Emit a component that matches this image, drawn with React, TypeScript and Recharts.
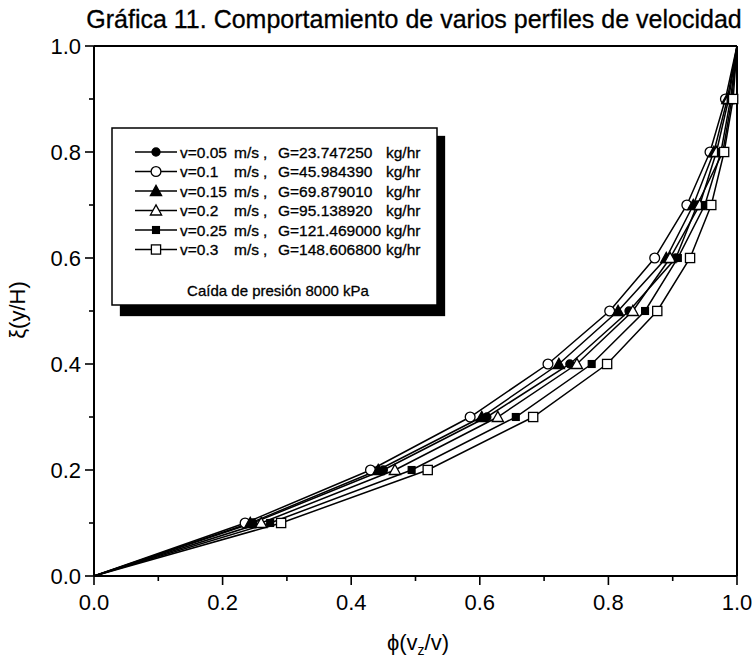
import { LineChart, Line, XAxis, YAxis, ReferenceLine } from "recharts";

// dimensionless height ξ = y/H at which each profile was sampled
const xiLevels = [0, 0.1, 0.2, 0.3, 0.4, 0.5, 0.6, 0.7, 0.8, 0.9, 1.0];

// dimensionless velocity φ = vz/v for each inlet velocity
const phiV005 = [0, 0.247, 0.45, 0.611, 0.74, 0.832, 0.905, 0.938, 0.978, 0.992, 1];
const phiV010 = [0, 0.235, 0.43, 0.585, 0.706, 0.802, 0.872, 0.922, 0.958, 0.982, 1];
const phiV015 = [0, 0.243, 0.442, 0.603, 0.723, 0.815, 0.89, 0.932, 0.964, 0.985, 1];
const phiV020 = [0, 0.26, 0.468, 0.628, 0.751, 0.838, 0.896, 0.942, 0.968, 0.987, 1];
const phiV025 = [0, 0.274, 0.494, 0.656, 0.774, 0.857, 0.908, 0.95, 0.975, 0.99, 1];
const phiV030 = [0, 0.291, 0.519, 0.683, 0.798, 0.876, 0.927, 0.96, 0.98, 0.994, 1];

const velocityLabels = ["v=0.05", "v=0.1", "v=0.15", "v=0.2", "v=0.25", "v=0.3"];
const flowLabels = ["G=23.747250", "G=45.984390", "G=69.879010", "G=95.138920", "G=121.469000", "G=148.606800"];

const axisTicks = [0, 0.1, 0.2, 0.3, 0.4, 0.5, 0.6, 0.7, 0.8, 0.9, 1.0];

type Shape = "circle" | "triangle" | "square";
interface MarkerKind {
  shape: Shape;
  filled: boolean;
}

const markerKinds: MarkerKind[] = [
  { shape: "circle", filled: true },
  { shape: "circle", filled: false },
  { shape: "triangle", filled: true },
  { shape: "triangle", filled: false },
  { shape: "square", filled: true },
  { shape: "square", filled: false },
];

const toPoints = (phi: number[]) => phi.map((p, i) => ({ x: p, y: xiLevels[i] }));

const series = [phiV005, phiV010, phiV015, phiV020, phiV025, phiV030].map((phi, i) => ({
  name: velocityLabels[i],
  data: toPoints(phi),
  kind: markerKinds[i],
}));

const FONT = "'Liberation Sans', Arial, Helvetica, sans-serif";

const Marker = ({ kind, cx, cy }: { kind: MarkerKind; cx: number; cy: number }) => {
  const fill = kind.filled ? "#000" : "#fff";
  if (kind.shape === "circle") {
    return <circle cx={cx} cy={cy} r={kind.filled ? 4 : 4.9} fill={fill} stroke="#000" strokeWidth={1.3} />;
  }
  if (kind.shape === "triangle") {
    const s = 5.6;
    return (
      <polygon
        points={`${cx},${cy - s} ${cx + s},${cy + s * 0.8} ${cx - s},${cy + s * 0.8}`}
        fill={fill}
        stroke="#000"
        strokeWidth={1.3}
      />
    );
  }
  const h = kind.filled ? 3.4 : 4.6;
  return <rect x={cx - h} y={cy - h} width={h * 2} height={h * 2} fill={fill} stroke="#000" strokeWidth={1.3} />;
};

const isMajor = (v: number) => Math.round(v * 10) % 2 === 0;

const XTick = (props: any) => {
  const { x, y, payload } = props;
  const v = payload.value as number;
  const major = isMajor(v);
  return (
    <g>
      <line x1={x} x2={x} y1={y} y2={y + (major ? 9 : 5)} stroke="#000" strokeWidth={1.6} />
      {major && (
        <text x={x} y={y + 34} textAnchor="middle" fontSize={22} fontFamily={FONT} fill="#000">
          {v.toFixed(1)}
        </text>
      )}
    </g>
  );
};

const YTick = (props: any) => {
  const { x, y, payload } = props;
  const v = payload.value as number;
  const major = isMajor(v);
  return (
    <g>
      <line x1={x} x2={x - (major ? 9 : 5)} y1={y} y2={y} stroke="#000" strokeWidth={1.6} />
      {major && (
        <text x={x - 13} y={y + 8} textAnchor="end" fontSize={22} fontFamily={FONT} fill="#000">
          {v.toFixed(1)}
        </text>
      )}
    </g>
  );
};

const Legend = () => {
  const rowY = (i: number) => 152 + i * 19.5;
  return (
    <g fontFamily={FONT} fontSize={15.5} fill="#000" stroke="#000" strokeWidth={0.3}>
      <rect x={120} y={136} width={325} height={180} fill="#000" />
      <rect x={112} y={128} width={325} height={177} fill="#fff" stroke="#000" strokeWidth={1.5} />
      {series.map((s, i) => {
        const cy = rowY(i);
        return (
          <g key={s.name}>
            <line x1={135} x2={177} y1={cy} y2={cy} stroke="#000" strokeWidth={1.5} />
            <g strokeWidth={1.3}>
              <Marker kind={s.kind} cx={156} cy={cy} />
            </g>
            <text x={180} y={cy + 5.5}>{velocityLabels[i]}</text>
            <text x={234} y={cy + 5.5}>m/s</text>
            <text x={263} y={cy + 5.5}>,</text>
            <text x={278} y={cy + 5.5}>{flowLabels[i]}</text>
            <text x={386} y={cy + 5.5}>kg/hr</text>
          </g>
        );
      })}
      <text x={278} y={296} textAnchor="middle" fontSize={15}>
        Caída de presión 8000 kPa
      </text>
    </g>
  );
};

export default function App() {
  return (
    <div style={{ position: "absolute", left: 0, top: 0, width: 752, height: 662, background: "#fff" }}>
      <LineChart width={752} height={662} margin={{ top: 46, right: 15, bottom: 0, left: 0 }}>
        <XAxis
          type="number"
          dataKey="x"
          domain={[0, 1]}
          ticks={axisTicks}
          interval={0}
          tickSize={0}
          tickMargin={0}
          tickLine={false}
          tick={<XTick />}
          axisLine={{ stroke: "#000", strokeWidth: 2 }}
          height={86}
          allowDuplicatedCategory={false}
        />
        <YAxis
          type="number"
          dataKey="y"
          domain={[0, 1]}
          ticks={axisTicks}
          interval={0}
          tickSize={0}
          tickMargin={0}
          tickLine={false}
          tick={<YTick />}
          axisLine={{ stroke: "#000", strokeWidth: 2 }}
          width={94}
        />
        <ReferenceLine y={1} stroke="#000" strokeWidth={2} />
        <ReferenceLine x={1} stroke="#000" strokeWidth={2} />
        {series.map((s) => (
          <Line
            key={s.name}
            data={s.data}
            dataKey="y"
            type="linear"
            stroke="#000"
            strokeWidth={1.5}
            isAnimationActive={false}
            dot={(p: any) => {
              const y = p.payload.y;
              if (y === 0 || y === 1) return <g key={`${s.name}-${p.index}`} />;
              return (
                <g key={`${s.name}-${p.index}`}>
                  <Marker kind={s.kind} cx={p.cx} cy={p.cy} />
                </g>
              );
            }}
            activeDot={false}
          />
        ))}
      </LineChart>
      <svg width={752} height={662} style={{ position: "absolute", left: 0, top: 0, pointerEvents: "none" }}>
        <text x={414} y={28} textAnchor="middle" fontFamily={FONT} fontSize={25} fill="#000" stroke="#000" strokeWidth={0.3}>
          Gráfica 11. Comportamiento de varios perfiles de velocidad
        </text>
        <text x={418} y={650} textAnchor="middle" fontFamily={FONT} fontSize={22} fill="#000">
          ϕ(v
          <tspan dy={5} fontSize={14}>
            z
          </tspan>
          <tspan dy={-5}>/v)</tspan>
        </text>
        <text
          x={0}
          y={0}
          transform="translate(25,310) rotate(-90)"
          textAnchor="middle"
          fontFamily={FONT}
          fontSize={22}
          fill="#000"
        >
          ξ(y/H)
        </text>
        <Legend />
      </svg>
    </div>
  );
}
